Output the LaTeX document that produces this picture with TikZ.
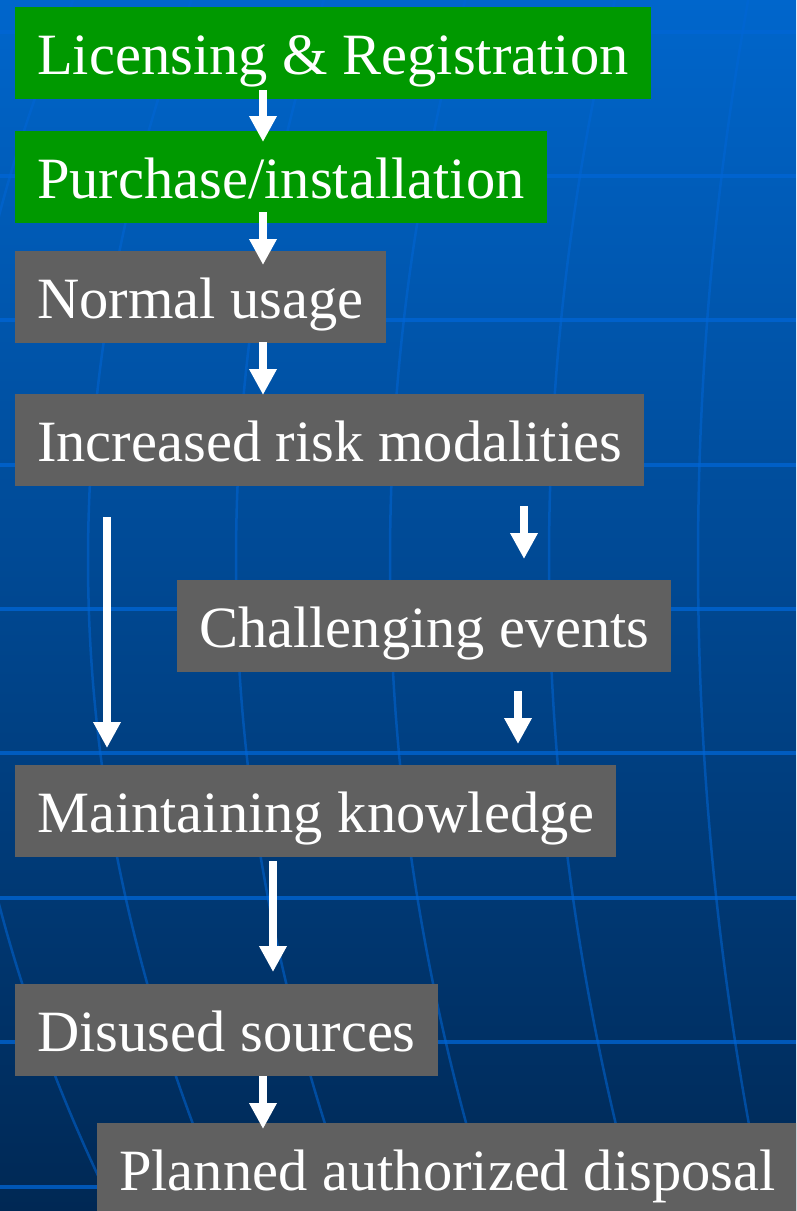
\documentclass[tikz,border=0pt]{standalone}
\usepackage{fontspec}
\setmainfont{Liberation Serif}
\usetikzlibrary{arrows.meta}
\definecolor{bgtop}{RGB}{0,102,204}
\definecolor{bgbot}{RGB}{0,40,84}
\definecolor{gridblue}{RGB}{0,102,214}
\definecolor{boxgreen}{RGB}{0,153,0}
\definecolor{boxgray}{RGB}{96,96,96}
\newcommand{\bigfont}{\fontsize{58.5}{70}\selectfont}
\tikzset{
  stepbox/.style={rectangle, anchor=north west, text=white, inner xsep=22pt, inner ysep=0pt,
    text height=67pt, text depth=25pt, font=\bigfont},
  greenbox/.style={stepbox, fill=boxgreen},
  graybox/.style={stepbox, fill=boxgray},
  flowarrow/.style={draw=white, line width=8.5pt, -{Triangle[width=26pt,length=26pt]}},
  hline/.style={draw=gridblue, line width=3.5pt, opacity=0.75},
  mline/.style={draw=gridblue, line width=2.5pt, opacity=0.55}
}
\begin{document}
\begin{tikzpicture}[x=1pt, y=-1pt]
\useasboundingbox (0,0) rectangle (796,1211);
\clip (0,0) rectangle (796,1211);
% background
\shade[top color=bgtop, bottom color=bgbot] (0,0) rectangle (796,1211);
% horizontal grid lines
\foreach \yy in {32,176,320,465,609,753,898,1042,1187}
  \draw[hline] (0,\yy) -- (796,\yy);
% meridians
\foreach \xo/\kk in {-46/3.8, 88/3.3, 236/2.8, 390/2.4, 549/2.1, 698/1.6}
  \draw[mline] plot[domain=0:1211, samples=40, variable=\t, smooth]
    ({\xo + \kk*((\t-560)/100)*((\t-560)/100)}, {\t});
% boxes
\node[greenbox] (b1) at (15,7)    {Licensing \& Registration};
\node[greenbox] (b2) at (15,131)  {Purchase/installation};
\node[graybox]  (b3) at (15,251)  {Normal usage};
\node[graybox]  (b4) at (15,394)  {Increased risk modalities};
\node[graybox]  (b5) at (177,580) {Challenging events};
\node[graybox]  (b6) at (15,765)  {Maintaining knowledge};
\node[graybox]  (b7) at (15,984)  {Disused sources};
\node[graybox]  (b8) at (97,1123) {Planned authorized disposal};
% arrows
\draw[flowarrow] ([xshift=248pt,yshift=9pt]b1.south west) -- ([xshift=248pt,yshift=-11pt]b2.north west);
\draw[flowarrow] ([xshift=248pt,yshift=11pt]b2.south west) -- ([xshift=248pt,yshift=-14pt]b3.north west);
\draw[flowarrow] ([xshift=248pt,yshift=1pt]b3.south west) -- ([xshift=248pt,yshift=-1pt]b4.north west);
\draw[flowarrow] ([xshift=92pt,yshift=-31pt]b4.south west) -- ([xshift=92pt,yshift=17pt]b6.north west);
\draw[flowarrow] ([xshift=509pt,yshift=-20pt]b4.south west) -- ([xshift=347pt,yshift=21pt]b5.north west);
\draw[flowarrow] ([xshift=341pt,yshift=-19pt]b5.south west) -- ([xshift=503pt,yshift=21pt]b6.north west);
\draw[flowarrow] ([xshift=258pt,yshift=-4pt]b6.south west) -- ([xshift=258pt,yshift=12pt]b7.north west);
\draw[flowarrow] ([xshift=248pt,yshift=0pt]b7.south west) -- ([xshift=166pt,yshift=-6pt]b8.north west);
\end{tikzpicture}
\end{document}
